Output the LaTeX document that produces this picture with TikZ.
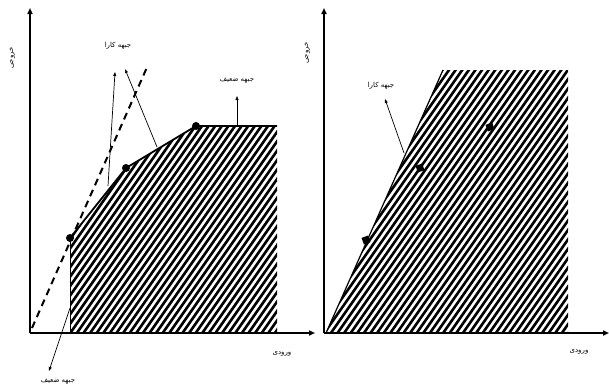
\documentclass[tikz,border=0pt]{standalone}
\usepackage{fontspec}
\newfontfamily\arabicfont[Script=Arabic]{DejaVu Sans}
\TeXXeTstate=1
\usetikzlibrary{arrows.meta}
\tikzset{
  axisline/.style={line width=1.6pt,-{Triangle[length=6pt,width=5pt]}},
  lbl/.style={inner sep=1pt,font=\arabicfont\fontsize{7}{8}\selectfont},
  thinarrow/.style={line width=0.7pt,-{Triangle[length=4pt,width=3pt]}},
  frontier/.style={line width=1.8pt},
  dot/.style={circle,fill=black,inner sep=0pt,minimum size=8pt},
  sqdot/.style={rectangle,fill=black,inner sep=0pt,minimum size=7pt,rotate=20},
  hatch/.style={line width=2.6pt,black}
}
\begin{document}
\begin{tikzpicture}[x=1pt,y=-1pt]
\fill[white] (0,0) rectangle (609,391);
\useasboundingbox (0,0) rectangle (609,391);

% ---------- left panel ----------
\coordinate (LO) at (30,333);
\coordinate (LY) at (30,8);
\coordinate (LX) at (315,333);
\coordinate (A0) at (70,333);
\coordinate (R1) at (277,126);
\coordinate (R0) at (277,333);

\begin{scope}
\clip (70,333) -- (70,238) -- (126,168) -- (196,126) -- (277,126) -- (277,333) -- cycle;
\foreach \k in {0,...,130} \draw[hatch] (\k*6.6-300,400) -- ++(280,-400);
\end{scope}

\node[dot] (P1) at (70,238) {};
\node[dot] (P2) at (126,168) {};
\node[dot] (P3) at (196,126) {};

\draw[line width=1pt] (A0) -- (P1.center);
\draw[frontier] (P1.center) -- (P2.center) -- (P3.center) -- (R1);

\coordinate (D0) at (32,328);
\coordinate (D1) at (148,65);
\draw[line width=2pt,dash pattern=on 7pt off 5pt] (D0) -- (D1);

\draw[axisline] (LO) -- (LY);
\draw[axisline] (LO) -- (LX);

\node[lbl,rotate=90] (ly) at (12,58) {\beginR خروجی\endR};
\node[lbl] (lx) at (282,354) {\beginR ورودی\endR};

\node[lbl] (eff1) at (118,46) {\beginR جبهه کارا\endR};
\coordinate (e1s) at (108,186);
\coordinate (e1t) at (115,72);
\coordinate (e2s) at (157,147);
\coordinate (e2t) at (125,69);
\draw[thinarrow] (e1s) -- (e1t);
\draw[thinarrow] (e2s) -- (e2t);

\node[lbl] (weak1) at (237,80) {\beginR جبهه ضعیف\endR};
\coordinate (w1s) at (237,126);
\coordinate (w1t) at (237,96);
\draw[thinarrow] (w1s) -- (w1t);

\node[lbl] (weak2) at (58,381) {\beginR جبهه ضعیف\endR};
\coordinate (w2s) at (70,308);
\coordinate (w2t) at (49,371);
\draw[thinarrow] (w2s) -- (w2t);

% ---------- right panel ----------
\coordinate (RO) at (324,333);
\coordinate (RY) at (324,8);
\coordinate (RX) at (609,333);
\coordinate (B0) at (326,333);
\coordinate (B1) at (443,70);

\begin{scope}
\clip (326,333) -- (443,70) -- (568,70) -- (568,333) -- cycle;
\foreach \k in {0,...,140} \draw[hatch] (\k*6.6+20,400) -- ++(280,-400);
\end{scope}

\draw[line width=1.2pt] (B0) -- (B1);

\node[sqdot] (Q1) at (366,240) {};
\node[sqdot] (Q2) at (420,168) {};
\node[sqdot] (Q3) at (490,127) {};

\draw[axisline] (RO) -- (RY);
\draw[axisline] (RO) -- (RX);

\node[lbl,rotate=90] (ry) at (307,53) {\beginR خروجی\endR};
\node[lbl] (rx) at (579,352) {\beginR ورودی\endR};

\node[lbl] (eff2) at (381,86) {\beginR جبهه کارا\endR};
\coordinate (e3s) at (404,153);
\coordinate (e3t) at (385,99);
\draw[thinarrow] (e3s) -- (e3t);
\end{tikzpicture}
\end{document}
